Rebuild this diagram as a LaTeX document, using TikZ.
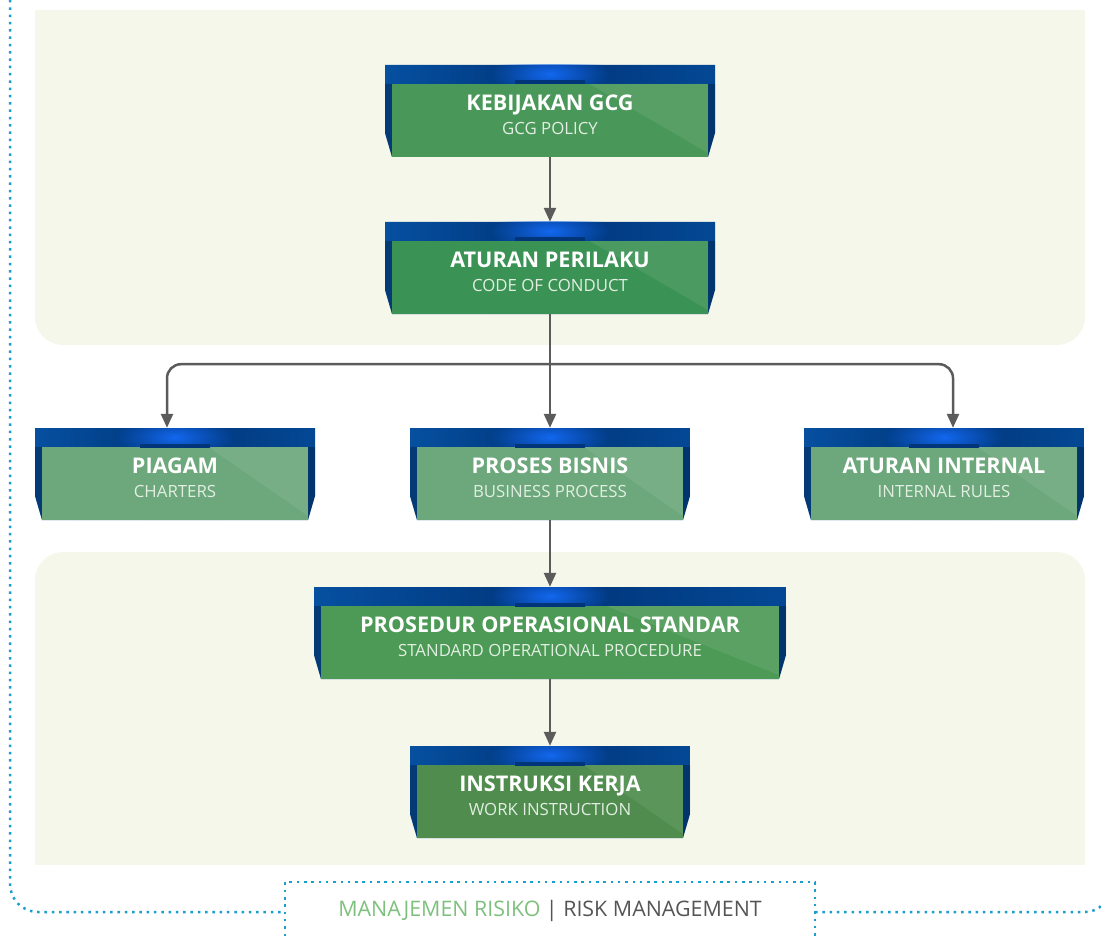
\documentclass[tikz,border=0pt]{standalone}
\usepackage{fontspec}
\setmainfont{Open Sans}
\usetikzlibrary{arrows.meta,calc,fadings}

\definecolor{panelbg}{HTML}{F5F7EA}
\definecolor{framedot}{HTML}{1A9ECB}
\definecolor{arrowgray}{HTML}{5B5B5B}
\definecolor{banddark}{HTML}{00357A}
\definecolor{bandedge}{HTML}{0650A0}
\definecolor{bandglow}{HTML}{1368F0}
\definecolor{glowcyan}{HTML}{4CC0EE}
\definecolor{facegcg}{HTML}{4A975A}
\definecolor{faceconduct}{HTML}{3B9255}
\definecolor{facelight}{HTML}{6CA87B}
\definecolor{facesop}{HTML}{4C9A56}
\definecolor{facework}{HTML}{4F8C4D}
\definecolor{subwhite}{HTML}{E2EEE2}
\definecolor{labelgreen}{HTML}{7DC07D}
\definecolor{labelgray}{HTML}{555555}

\tikzfading[name=glowfade, inner color=transparent!0, outer color=transparent!100]

\newcommand{\tiertext}[2]{{\bfseries\fontsize{21.6}{24}\selectfont\rule{0pt}{23pt}#1}\\{\color{subwhite}#2}}

\tikzset{
  tierface/.code={\colorlet{tierfacecol}{#1}},
  tier/.style={rectangle, minimum height=92pt, inner sep=0pt, align=center, text=white,
    font=\fontsize{16.8}{24}\selectfont, tierface=facelight,
    path picture={
      \path (path picture bounding box.north west) coordinate (tnw)
            (path picture bounding box.north east) coordinate (tne)
            (path picture bounding box.south west) coordinate (tsw)
            (path picture bounding box.south east) coordinate (tse)
            (path picture bounding box.north) coordinate (tn);
      \shade[left color=bandedge, right color=bandedge!70!banddark, middle color=banddark]
        (tnw) -- (tne) -- ([yshift=24pt]tse) -- ([xshift=-7pt]tse) -- ([xshift=7pt]tsw) -- ([yshift=24pt]tsw) -- cycle;
      \fill[black, opacity=.25] ([yshift=-19pt]tnw) -- ([xshift=7pt,yshift=-19pt]tnw) -- ([xshift=7pt]tsw)
        -- ([yshift=24pt]tsw) -- cycle;
      \fill[black, opacity=.25] ([yshift=-19pt]tne) -- ([xshift=-7pt,yshift=-19pt]tne) -- ([xshift=-7pt]tse)
        -- ([yshift=24pt]tse) -- cycle;
      \fill[bandglow, path fading=glowfade] ([yshift=-9pt]tn) ellipse [x radius=60pt, y radius=22pt];
      \fill[tierfacecol] ([xshift=7pt,yshift=-19pt]tnw) rectangle ([xshift=-7pt]tse);
      \shade[left color=banddark, middle color=glowcyan, right color=banddark]
        ([xshift=-35pt,yshift=-16pt]tn) rectangle ([xshift=35pt,yshift=-19pt]tn);
      \fill[white, opacity=.08] ([yshift=-19pt]$(tnw)!.62!(tne)$) -- ([xshift=-7pt,yshift=-19pt]tne)
        -- ([xshift=-7pt,yshift=4pt]tse) -- cycle;
    }},
  framedots/.style={framedot, line width=2.5pt, dash pattern=on 2.5pt off 4.8pt}
}

\begin{document}
\begin{tikzpicture}[x=1pt, y=-1pt, grow=down,
    level 1/.style={level distance=157pt},
    level 2/.style={level distance=206pt, sibling distance=375pt},
    level 3/.style={level distance=159pt},
    level 4/.style={level distance=159pt},
    every child node/.style={tier, minimum width=280pt},
    edge from parent/.style={draw=arrowgray, line width=2.5pt, -{Triangle[length=14pt, width=12pt]}},
    edge from parent path={(\tikzparentnode.south) -- (\tikzchildnode.north)}]
    \useasboundingbox (0,0) rectangle (1101,936);
    \clip (0,0) rectangle (1101,936);

    % panels
    \fill[panelbg, rounded corners=28pt] (35,10) rectangle (1085,345);
    \fill[panelbg] (35,10) rectangle (1085,60);
    \fill[panelbg, rounded corners=28pt] (35,552) rectangle (1085,865);
    \fill[panelbg] (35,820) rectangle (1085,865);

    % frame
    \draw[framedots, rounded corners=28pt] (10,0) -- (10,912) -- (285,912);
    \draw[framedots] (285,936) -- (285,882) -- (815,882) -- (815,936);
    \draw[framedots, rounded corners=25pt] (815,912) -- (1110,912) -- (1110,860);
    \node (footer) at (550,911) {\fontsize{21.4}{24}\selectfont
        \color{labelgreen}MANAJEMEN RISIKO \color{labelgray}| RISK MANAGEMENT};

    % hierarchy
    \node[tier, minimum width=330pt, tierface=facegcg] (kebijakan) at (550,111)
        {\tiertext{KEBIJAKAN GCG}{GCG POLICY}}
        child{ node[minimum width=330pt, tierface=faceconduct] (aturan)
            {\tiertext{ATURAN PERILAKU}{CODE OF CONDUCT}}
            child[edge from parent path={([yshift=-50pt]\tikzparentnode.south)
                    [rounded corners=14pt] -| ([xshift=-8pt]\tikzchildnode.north)}]{ node (piagam)
                {\tiertext{PIAGAM}{CHARTERS}} }
            child{ node (proses) {\tiertext{PROSES BISNIS}{BUSINESS PROCESS}}
                child{ node[minimum width=472pt, tierface=facesop] (sop)
                    {\tiertext{PROSEDUR OPERASIONAL STANDAR}{STANDARD OPERATIONAL PROCEDURE}}
                    child{ node[tierface=facework] (instruksi)
                        {\tiertext{INSTRUKSI KERJA}{WORK INSTRUCTION}} }}}
            child[xshift=19pt, edge from parent path={([yshift=-50pt]\tikzparentnode.south)
                    [rounded corners=14pt] -| ([xshift=9pt]\tikzchildnode.north)}]{ node (internal)
                {\tiertext{ATURAN INTERNAL}{INTERNAL RULES}} }};
\end{tikzpicture}
\end{document}
